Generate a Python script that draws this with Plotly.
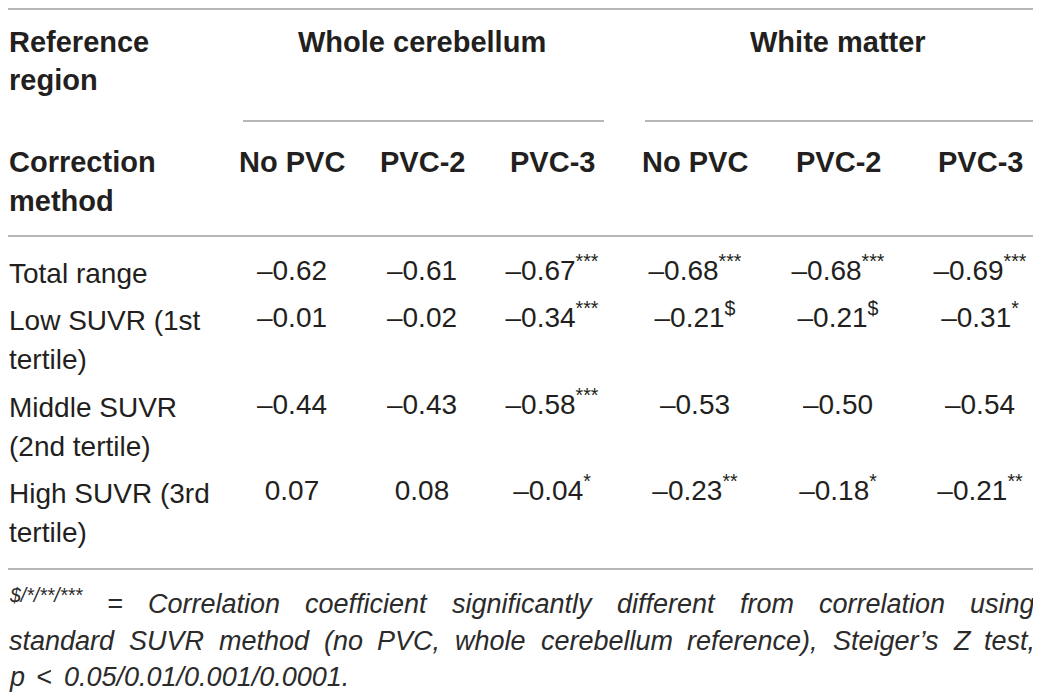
import plotly.graph_objects as go

# ---- table content ----
group_names = ["Whole cerebellum", "White matter"]
method_names = ["No PVC", "PVC-2", "PVC-3", "No PVC", "PVC-2", "PVC-3"]
row_labels = ["Total range", "Low SUVR (1st<br>tertile)",
              "Middle SUVR<br>(2nd tertile)", "High SUVR (3rd<br>tertile)"]

wc_nopvc = [-0.62, -0.01, -0.44, 0.07]
wc_pvc2 = [-0.61, -0.02, -0.43, 0.08]
wc_pvc3 = [-0.67, -0.34, -0.58, -0.04]
wm_nopvc = [-0.68, -0.21, -0.53, -0.23]
wm_pvc2 = [-0.68, -0.21, -0.50, -0.18]
wm_pvc3 = [-0.69, -0.31, -0.54, -0.21]

wc_nopvc_sig = ["", "", "", ""]
wc_pvc2_sig = ["", "", "", ""]
wc_pvc3_sig = ["***", "***", "***", "*"]
wm_nopvc_sig = ["***", "$", "", "**"]
wm_pvc2_sig = ["***", "$", "", "*"]
wm_pvc3_sig = ["***", "*", "", "**"]

footnote_sup = "$/*/**/***"
footnote_lines = [
    "= Correlation coefficient significantly different from correlation using",
    "standard SUVR method (no PVC, whole cerebellum reference), Steiger\u2019s Z test,",
    "p < 0.05/0.01/0.001/0.0001.",
]

# ---- layout constants (page pixel space) ----
W, H = 1041, 699
PAD = 8  # default body margin of the html page
TEXT = "#231f20"
RULE = "#9f9f9f"
FONT = "Liberation Sans"
col_x = [292, 422, 552, 695, 838, 980]
row_y = [273, 320, 407, 493]
line_gap = 39
LEFT, RIGHT = 8, 1034

columns = [wc_nopvc, wc_pvc2, wc_pvc3, wm_nopvc, wm_pvc2, wm_pvc3]
sigs = [wc_nopvc_sig, wc_pvc2_sig, wc_pvc3_sig, wm_nopvc_sig, wm_pvc2_sig, wm_pvc3_sig]


def fmt(v, s):
    txt = f"{v:.2f}".replace("-", "\u2013")
    return txt + (f"<sup>{s}</sup>" if s else "")


fig = go.Figure()

# values, one text trace per column
for cx, vals, sg in zip(col_x, columns, sigs):
    fig.add_trace(go.Scatter(
        x=[cx] * len(vals), y=row_y, mode="text",
        text=[fmt(v, s) for v, s in zip(vals, sg)],
        textposition="middle center",
        textfont=dict(family=FONT, size=28, color=TEXT),
        hoverinfo="skip", showlegend=False,
    ))

# row labels
for y0, lab in zip(row_y, row_labels):
    for i, part in enumerate(lab.split("<br>")):
        fig.add_annotation(x=LEFT, y=y0 + i * line_gap, text=part, showarrow=False,
                           xanchor="left", yanchor="middle", borderpad=0,
                           font=dict(family=FONT, size=28, color=TEXT))

# header
bold = dict(family=FONT, size=29, color=TEXT)
for i, part in enumerate(["Reference", "region"]):
    fig.add_annotation(x=LEFT, y=42 + i * 38, text=f"<b>{part}</b>", showarrow=False,
                       xanchor="left", yanchor="middle", borderpad=0, font=bold)
for i, part in enumerate(["Correction", "method"]):
    fig.add_annotation(x=LEFT, y=162 + i * 39, text=f"<b>{part}</b>", showarrow=False,
                       xanchor="left", yanchor="middle", borderpad=0, font=bold)
for g, name in enumerate(group_names):
    gx = sum(col_x[g * 3:g * 3 + 3]) / 3
    fig.add_annotation(x=gx, y=42, text=f"<b>{name}</b>", showarrow=False,
                       xanchor="center", yanchor="middle", font=bold)
for cx, name in zip(col_x, method_names):
    fig.add_annotation(x=cx, y=162, text=f"<b>{name}</b>", showarrow=False,
                       xanchor="center", yanchor="middle", font=bold)

# rules (the top one sits just inside the drawable area)
for y in [9, 236, 569]:
    fig.add_shape(type="line", x0=PAD, x1=1037, y0=y, y1=y, line=dict(color=RULE, width=1.6))
fig.add_shape(type="line", x0=243, x1=604, y0=121, y1=121, line=dict(color=RULE, width=1.6))
fig.add_shape(type="line", x0=645, x1=1037, y0=121, y1=121, line=dict(color=RULE, width=1.6))

# footnote, justified by hand using Arial-metric widths
CW = dict(a=556, b=556, c=500, d=556, e=556, f=278, g=556, h=556, i=222, j=222, k=500,
          l=222, m=833, n=556, o=556, p=556, q=556, r=333, s=500, t=278, u=556, v=500,
          w=722, x=500, y=500, z=500, C=722, P=667, R=722, S=667, U=722, V=667, Z=611)
CW.update({" ": 278, "(": 333, ")": 333, ",": 278, ".": 278, "\u2019": 222, "/": 278,
           "*": 389, "$": 556, "=": 584, "<": 584})
FN = 27


def width(s, size):
    return sum(CW.get(c, 556) for c in s) / 1000 * size


foot_font = dict(family=FONT, size=FN, color="#2b2b2b")
foot_y = [604, 641, 677]

for li, line in enumerate(footnote_lines):
    words = line.split(" ")
    items = [(w_, FN) for w_ in words]
    if li == 0:
        items = [(footnote_sup, FN * 0.72)] + items
    widths = [width(w_, sz) for w_, sz in items]
    if li < len(footnote_lines) - 1:
        gap = (RIGHT - LEFT - sum(widths)) / (len(items) - 1)
    else:
        gap = width(" ", FN) * 1.6
    x = LEFT
    for (w_, sz), wd in zip(items, widths):
        dy = -9 if sz < FN else 0
        fig.add_annotation(x=x, y=foot_y[li] + dy, text=f"<i>{w_}</i>", showarrow=False,
                           xanchor="left", yanchor="middle", borderpad=0,
                           font=dict(foot_font, size=sz))
        x += wd + gap

# the page adds an 8px body margin, so the figure covers page pixels PAD..W / PAD..H
fig.update_xaxes(range=[PAD, W], visible=False, fixedrange=True)
fig.update_yaxes(range=[H, PAD], visible=False, fixedrange=True)
fig.update_layout(width=W - PAD, height=H - PAD, margin=dict(l=0, r=0, t=0, b=0),
                  paper_bgcolor="white", plot_bgcolor="white")

fig.write_html("out.html")
